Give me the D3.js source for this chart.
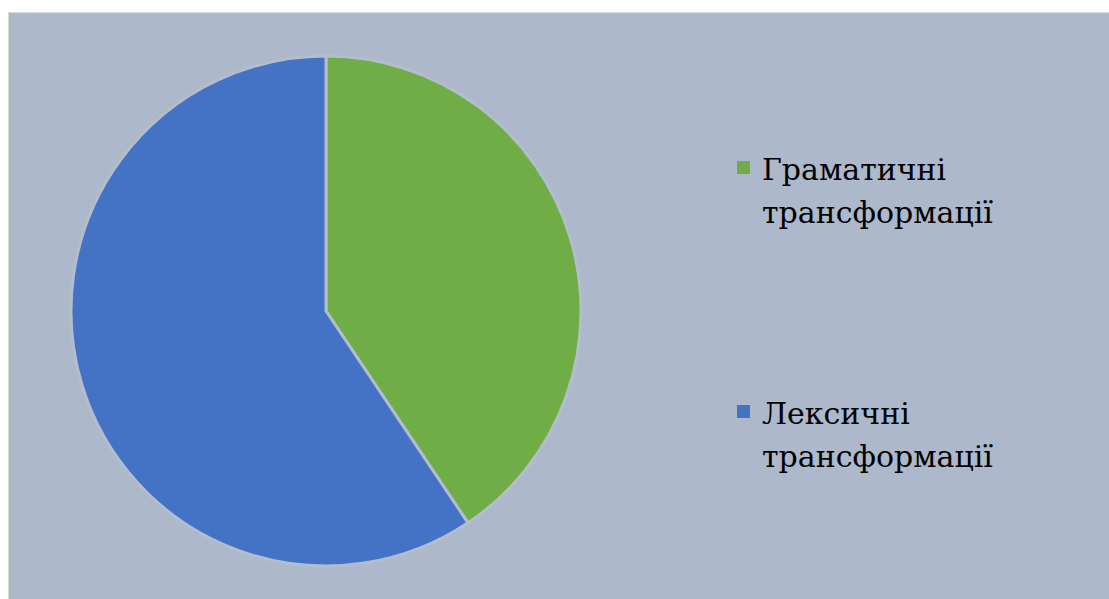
<!DOCTYPE html>
<html>
<head>
<meta charset="utf-8">
<script src="https://cdn.jsdelivr.net/npm/d3@7"></script>
<style>body { margin: 0; }</style>
</head>
<body>
<div id="chart"></div>
<script>
// chart data
const categories = ["Граматичні трансформації", "Лексичні трансформації"];
const values = [40.6, 59.4];
const colors = ["#70AD47", "#4472C4"];
const legendLines = [["Граматичні", "трансформації"], ["Лексичні", "трансформації"]];

const width = 1109, height = 599;
const bg = "#ADB9CA";

const svg = d3.select("#chart").append("svg")
    .attr("width", width)
    .attr("height", height);

// plot area with light border
svg.append("rect")
    .attr("x", 8.5)
    .attr("y", 12.5)
    .attr("width", width + 10)
    .attr("height", height + 10)
    .attr("fill", bg)
    .attr("stroke", "#D9D9D9")
    .attr("stroke-width", 1);

const cx = 326, cy = 311, radius = 255;

const pie = d3.pie().sort(null).value(d => d)(values);
const arc = d3.arc().innerRadius(0).outerRadius(radius);

const g = svg.append("g").attr("transform", `translate(${cx},${cy})`);
g.selectAll("path")
    .data(pie)
    .enter()
    .append("path")
    .attr("d", arc)
    .attr("fill", (d, i) => colors[i])
    .attr("stroke", "#B2BDCD")
    .attr("stroke-width", 3)
    .attr("stroke-linejoin", "round");

// legend (Liberation Serif here has no Cyrillic, so DejaVu Serif)
const legendTop = [153, 397];
categories.forEach((c, i) => {
    svg.append("rect")
        .attr("x", 737)
        .attr("y", legendTop[i] + 8)
        .attr("width", 13)
        .attr("height", 13)
        .attr("fill", colors[i]);
    legendLines[i].forEach((l, j) => {
        svg.append("text")
            .attr("x", 762)
            .attr("y", legendTop[i] + 27 + j * 43)
            .style("font-family", '"DejaVu Serif", serif')
            .attr("font-size", 30)
            .attr("fill", "#000")
            .text(l);
    });
});
</script>
</body>
</html>
